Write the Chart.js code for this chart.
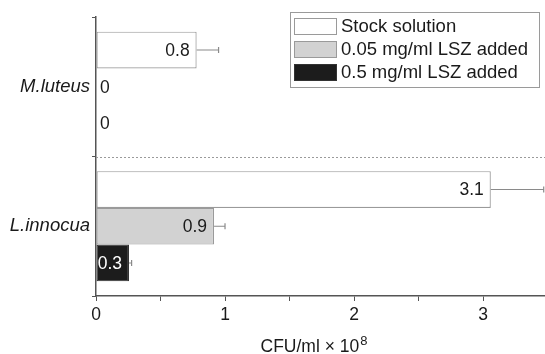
<!DOCTYPE html>
<html>
<head>
<meta charset="utf-8">
<script src="https://cdn.jsdelivr.net/npm/chart.js@4.4.1/dist/chart.umd.min.js"></script>
<style>
  html, body { margin: 0; padding: 0; background: #fff; }
  #wrap { width: 545px; height: 354px; position: relative; }
</style>
</head>
<body>
<div id="wrap"><canvas id="chart"></canvas></div>
<script>
// data (CFU/ml x 10^8)
const categories = ['M.luteus', 'L.innocua'];
const seriesNames = ['Stock solution', '0.05 mg/ml LSZ added', '0.5 mg/ml LSZ added'];
const stockValues = [0.78, 3.06];
const lsz005Values = [0, 0.915];
const lsz05Values = [0, 0.256];
const stockErrors = [0.17, 0.41];
const lsz005Errors = [0, 0.085];
const lsz05Errors = [0, 0.02];
const xTickLabels = [0, 1, 2, 3];
const xTitle = 'CFU/ml × 10';
const xTitleExp = '8';

const FONT = '"Liberation Sans", Arial, Helvetica, sans-serif';
const fills = ['#ffffff', '#d2d2d2', '#1c1c1c'];
const borders = ['#9a9a9a', '#9a9a9a', '#333333'];
const labelColors = ['#1a1a1a', '#1a1a1a', '#fff'];
const errors = [stockErrors, lsz005Errors, lsz05Errors];

// error bars + value labels on bars
const barExtras = {
  id: 'barExtras',
  afterDatasetsDraw(chart) {
    const ctx = chart.ctx;
    const x = chart.scales.x;
    ctx.save();
    chart.data.datasets.forEach((ds, di) => {
      const meta = chart.getDatasetMeta(di);
      meta.data.forEach((el, i) => {
        const v = ds.data[i];
        const err = errors[di][i];
        if (err > 0) {
          const x2 = x.getPixelForValue(v + err);
          ctx.strokeStyle = '#8a8a8a';
          ctx.lineWidth = 1.2;
          ctx.beginPath();
          ctx.moveTo(el.x, el.y);
          ctx.lineTo(x2, el.y);
          ctx.moveTo(x2, el.y - 3);
          ctx.lineTo(x2, el.y + 3);
          ctx.stroke();
        }
        ctx.font = '17.5px ' + FONT;
        ctx.textBaseline = 'middle';
        if (v > 0) {
          ctx.fillStyle = labelColors[di];
          ctx.textAlign = 'right';
          ctx.fillText(v.toFixed(1), el.x - 7, el.y + 1);
        } else {
          ctx.fillStyle = '#1a1a1a';
          ctx.textAlign = 'left';
          ctx.fillText('0', el.base + 4, el.y + 1);
        }
      });
    });
    ctx.restore();
  }
};

// dotted separator between the two organisms
const separator = {
  id: 'separator',
  beforeDatasetsDraw(chart) {
    const ctx = chart.ctx;
    const y = chart.scales.y;
    const area = chart.chartArea;
    const yy = Math.round((y.getPixelForValue(0) + y.getPixelForValue(1)) / 2) + 0.5;
    ctx.save();
    ctx.strokeStyle = '#9a9a9a';
    ctx.lineWidth = 1;
    ctx.setLineDash([2, 2]);
    ctx.beginPath();
    ctx.moveTo(area.left, yy);
    ctx.lineTo(area.right, yy);
    ctx.stroke();
    ctx.restore();
  }
};

// x axis title with a raised exponent
const axisTitle = {
  id: 'axisTitle',
  afterDraw(chart) {
    const ctx = chart.ctx;
    const x = chart.scales.x;
    ctx.save();
    ctx.fillStyle = '#1a1a1a';
    ctx.textBaseline = 'alphabetic';
    ctx.textAlign = 'left';
    ctx.font = '17.5px ' + FONT;
    const w1 = ctx.measureText(xTitle).width;
    ctx.font = '13px ' + FONT;
    const w2 = ctx.measureText(xTitleExp).width;
    const cx = (x.left + x.right) / 2 - 7;
    const left = cx - (w1 + w2) / 2;
    const base = x.bottom - 2;
    ctx.font = '17.5px ' + FONT;
    ctx.fillText(xTitle, left, base);
    ctx.font = '13px ' + FONT;
    ctx.fillText(xTitleExp, left + w1 + 1, base - 7);
    ctx.restore();
  }
};

// boxed legend in the top right corner
const boxLegend = {
  id: 'boxLegend',
  afterDraw(chart) {
    const ctx = chart.ctx;
    const area = chart.chartArea;
    const right = area.right - 6, top = area.top - 5;
    const w = 249, h = 75;
    const left = right - w;
    ctx.save();
    ctx.strokeStyle = '#9a9a9a';
    ctx.lineWidth = 1;
    ctx.fillStyle = '#fff';
    ctx.fillRect(left, top, w, h);
    ctx.strokeRect(left + 0.5, top + 0.5, w, h);
    ctx.font = '18.5px ' + FONT;
    ctx.textBaseline = 'middle';
    ctx.textAlign = 'left';
    chart.data.datasets.forEach((ds, i) => {
      const cy = top + 14 + i * 23;
      ctx.fillStyle = fills[i];
      ctx.fillRect(left + 4, cy - 8, 42, 16);
      ctx.strokeStyle = borders[i];
      ctx.strokeRect(left + 4.5, cy - 7.5, 42, 16);
      ctx.fillStyle = '#1a1a1a';
      ctx.fillText(ds.label, left + 51, cy + 1);
    });
    ctx.restore();
  }
};

new Chart(document.getElementById('chart'), {
  type: 'bar',
  data: {
    labels: categories,
    datasets: [
      { label: seriesNames[0], data: stockValues },
      { label: seriesNames[1], data: lsz005Values },
      { label: seriesNames[2], data: lsz05Values }
    ].map((d, i) => Object.assign(d, {
      backgroundColor: fills[i],
      borderColor: borders[i],
      borderWidth: 1.2,
      borderSkipped: false,
      categoryPercentage: 0.79,
      barPercentage: 1
    }))
  },
  options: {
    indexAxis: 'y',
    responsive: true,
    maintainAspectRatio: false,
    animation: false,
    layout: { padding: { top: 17, right: 0, left: 0, bottom: 0 } },
    plugins: { legend: { display: false }, tooltip: { enabled: false } },
    scales: {
      x: {
        min: 0,
        max: 3.48,
        border: { color: '#555', width: 1.5 },
        grid: { drawOnChartArea: false, drawTicks: true, tickLength: 5, color: '#555' },
        afterBuildTicks: s => { s.ticks = s.ticks.filter(t => Math.abs(t.value * 2 - Math.round(t.value * 2)) < 1e-6); },
        ticks: {
          stepSize: 0.5,
          color: '#1a1a1a',
          font: { family: FONT, size: 17.5 },
          padding: 4,
          maxRotation: 0,
          callback: v => xTickLabels.includes(v) ? String(v) : ''
        },
        afterFit: s => { s.height = 58; }
      },
      y: {
        offset: true,
        border: { color: '#555', width: 1.5 },
        grid: { offset: true, drawOnChartArea: false, drawTicks: true, tickLength: 4, color: '#555' },
        ticks: {
          color: '#1a1a1a',
          font: { family: FONT, size: 18.5, style: 'italic' },
          padding: 2
        },
        afterFit: s => { s.width = 96; }
      }
    }
  },
  plugins: [separator, barExtras, axisTitle, boxLegend]
});
</script>
</body>
</html>
